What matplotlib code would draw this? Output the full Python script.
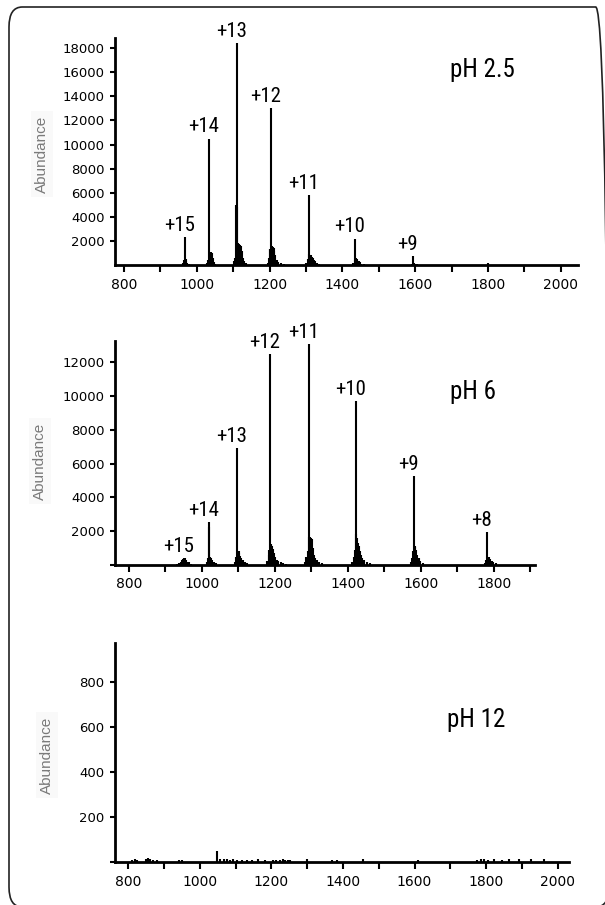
import numpy as np
import matplotlib
matplotlib.use("Agg")
import matplotlib.pyplot as plt
from matplotlib import font_manager
from matplotlib.patches import FancyBboxPatch

# ---- data (m/z, abundance sticks) ----
p1_mz = [963, 965, 967, 969, 971, 974, 978,
         1029, 1031, 1033, 1035, 1037, 1039, 1041, 1043, 1046, 1050,
         1103, 1106, 1108, 1109, 1111, 1113, 1115, 1117, 1119, 1121, 1123, 1126, 1130, 1135,
         1195, 1198, 1200, 1201, 1203, 1205, 1207, 1209, 1211, 1213, 1215, 1219, 1224, 1230, 1238,
         1301, 1304, 1307, 1309, 1311, 1313, 1315, 1318, 1321, 1325, 1330, 1336,
         1430, 1433, 1435, 1437, 1439, 1441, 1444, 1448, 1452, 1458,
         1590, 1593, 1596, 1600, 1605, 1800]
p1_ab = [150, 400, 2300, 500, 300, 200, 100,
         200, 400, 10500, 1100, 1100, 1050, 1000, 600, 250, 100,
         300, 600, 5000, 4800, 18400, 1800, 1750, 1700, 1650, 1600, 1200, 600, 350, 150,
         200, 600, 1300, 1300, 13000, 1500, 1550, 1500, 1400, 1200, 800, 400, 250, 150, 80,
         200, 500, 5800, 900, 850, 800, 700, 600, 450, 300, 150, 80,
         150, 400, 2200, 550, 500, 450, 350, 250, 120, 60,
         100, 750, 150, 120, 60, 130]
p1_peak_mz = [967, 1033, 1111, 1203, 1307, 1435, 1593]
p1_peak_ab = [2300, 10500, 18400, 13000, 5800, 2200, 750]
p1_charges = ["+15", "+14", "+13", "+12", "+11", "+10", "+9"]

p2_mz = [932, 938, 942, 946, 949, 951, 953, 956, 960, 964, 970,
         1014, 1017, 1019, 1021, 1023, 1026, 1029, 1033, 1038,
         1091, 1094, 1097, 1099, 1101, 1103, 1106, 1109, 1113, 1118, 1124,
         1180, 1183, 1185, 1187, 1189, 1191, 1193, 1195, 1198, 1201, 1205, 1210, 1216, 1224, 1232,
         1284, 1287, 1290, 1293, 1295, 1297, 1299, 1301, 1304, 1307, 1311, 1316, 1322, 1330,
         1412, 1416, 1419, 1422, 1424, 1426, 1428, 1430, 1433, 1436, 1440, 1445, 1452, 1460,
         1573, 1576, 1579, 1581, 1583, 1585, 1587, 1590, 1594, 1599, 1605,
         1776, 1779, 1782, 1784, 1787, 1790, 1794, 1799, 1805]
p2_ab = [60, 120, 200, 300, 380, 430, 400, 300, 200, 150, 80,
         150, 400, 2250, 2550, 450, 400, 300, 200, 100,
         200, 500, 6950, 850, 800, 700, 550, 400, 300, 200, 100,
         250, 600, 900, 12470, 1250, 1200, 1100, 950, 700, 450, 300, 250, 200, 120, 60,
         200, 500, 800, 13070, 1650, 1650, 1600, 1550, 1000, 600, 400, 300, 200, 100,
         200, 500, 900, 9710, 1850, 1600, 1300, 1100, 800, 600, 400, 300, 200, 100,
         200, 400, 800, 5290, 1100, 1050, 900, 600, 400, 250, 120,
         100, 300, 1940, 500, 450, 350, 250, 180, 100]
p2_peak_mz = [951, 1021, 1097, 1187, 1293, 1422, 1581, 1782]
p2_peak_ab = [430, 2550, 6950, 12470, 13070, 9710, 5290, 1940]
p2_charges = ["+15", "+14", "+13", "+12", "+11", "+10", "+9", "+8"]

p3_mz = [810, 818, 825, 848, 855, 860, 868, 880, 942, 950, 1047,
         1057, 1066, 1075, 1084, 1093, 1105, 1117, 1131, 1145, 1163, 1182,
         1205, 1214, 1224, 1231, 1238, 1245, 1252, 1300, 1370, 1382, 1455, 1610,
         1774, 1785, 1795, 1806, 1822, 1844, 1865, 1892, 1925, 1963]
p3_ab = [10, 15, 8, 14, 20, 12, 10, 8, 10, 8, 50,
         15, 12, 14, 10, 12, 10, 9, 11, 8, 12, 10,
         9, 11, 10, 12, 9, 11, 8, 12, 9, 8, 12, 10,
         10, 12, 14, 11, 13, 10, 12, 15, 12, 14]

panels = [
    dict(mz=p1_mz, ab=p1_ab, pk_mz=p1_peak_mz, pk_ab=p1_peak_ab, lab=p1_charges,
         xlim=(775, 2047), ylim=(0, 18850), yticks=[2000, 4000, 6000, 8000, 10000, 12000, 14000, 16000, 18000],
         xticks=np.arange(800, 2001, 100), box=(115, 578, 38, 265), title="pH 2.5", tpos=(482, 70),
         ylab=(42, 154)),
    dict(mz=p2_mz, ab=p2_ab, pk_mz=p2_peak_mz, pk_ab=p2_peak_ab, lab=p2_charges,
         xlim=(762.5, 1913), ylim=(0, 13260), yticks=[0, 2000, 4000, 6000, 8000, 10000, 12000],
         xticks=np.arange(800, 1901, 100), box=(115, 535, 341, 565), title="pH 6", tpos=(473, 392),
         ylab=(40, 461)),
    dict(mz=p3_mz, ab=p3_ab, pk_mz=[], pk_ab=[], lab=[],
         xlim=(762.5, 2032), ylim=(0, 975), yticks=[0, 200, 400, 600, 800],
         xticks=np.arange(800, 2001, 100), box=(115, 569, 643, 862), title="pH 12", tpos=(476, 720),
         ylab=(47, 755)),
]

# pick a narrow face for the charge / pH labels if one is installed
fl = font_manager.fontManager.ttflist
names = {f.name for f in fl}
lab_font = dict(family=["Liberation Sans", "DejaVu Sans"])
scale = 0.9
for nm in ["Liberation Sans Narrow", "Roboto Condensed", "Open Sans Condensed", "Noto Sans Condensed"]:
    if nm in names:
        lab_font = dict(family=[nm, "DejaVu Sans"])
        scale = 1.0
        break
else:
    for f in fl:
        if f.name in ("DejaVu Sans", "Noto Sans", "Roboto", "Open Sans") and f.stretch == "condensed":
            lab_font = dict(family=[f.name, "DejaVu Sans"], stretch="condensed")
            scale = 1.0
            break

W, H = 605, 905
fig = plt.figure(figsize=(W / 100, H / 100), dpi=100)

for p in panels:
    x0, x1, y0, y1 = p["box"]
    ax = fig.add_axes([x0 / W, 1 - y1 / H, (x1 - x0) / W, (y1 - y0) / H])
    ax.vlines(p["mz"], 0, p["ab"], color="black", lw=1.5)
    ax.set_xlim(*p["xlim"])
    ax.set_ylim(*p["ylim"])
    ax.spines["top"].set_visible(False)
    ax.spines["right"].set_visible(False)
    ax.spines["left"].set_linewidth(2)
    ax.spines["bottom"].set_linewidth(2)
    ax.set_xticks(p["xticks"])
    ax.set_xticklabels([str(v) if v % 200 == 0 else "" for v in p["xticks"]],
                       fontsize=10, family="DejaVu Sans")
    ax.set_yticks(p["yticks"])
    ax.set_yticklabels([str(v) if v > 0 else "" for v in p["yticks"]],
                       fontsize=9.5, family="DejaVu Sans")
    ax.tick_params(axis="x", length=5, width=1.5, pad=4)
    ax.tick_params(axis="y", length=3.5, width=1.5, pad=4)
    for m, a, t in zip(p["pk_mz"], p["pk_ab"], p["lab"]):
        ax.annotate(t, (m, a), xytext=(-4, 1.5), textcoords="offset points",
                    ha="center", va="bottom", fontsize=15 * scale, **lab_font)
    fig.text(p["tpos"][0] / W, 1 - p["tpos"][1] / H, p["title"], ha="center", va="center",
             fontsize=18 * scale, **lab_font)
    fig.text(p["ylab"][0] / W, 1 - p["ylab"][1] / H, "Abundance", rotation=90,
             ha="center", va="center", fontsize=11, color="#7a7a7a", family="Liberation Sans",
             bbox=dict(facecolor="#f9f9f9", edgecolor="none", pad=3))

# rounded frame, cut by the right and bottom image edges
frame = FancyBboxPatch((9 / W, 1 - 907 / H), (609 - 9) / W, (907 - 7) / H,
                       boxstyle="round,pad=0,rounding_size=0.022", transform=fig.transFigure,
                       fill=False, edgecolor="#222222", lw=1.2)
fig.patches.append(frame)

fig.savefig("out.png", dpi=100)
